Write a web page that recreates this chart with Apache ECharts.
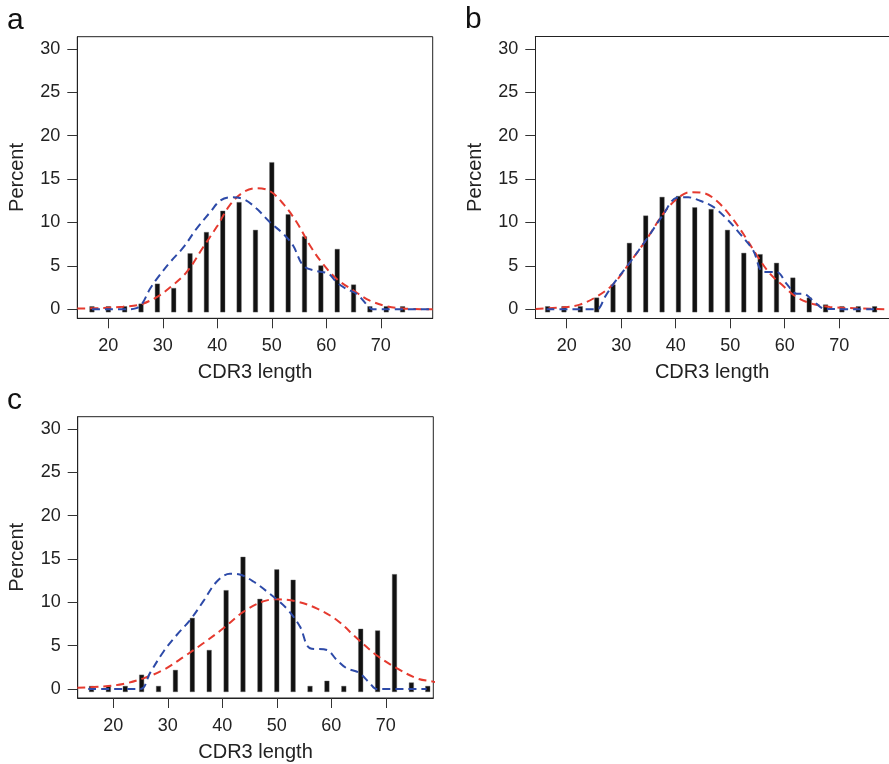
<!DOCTYPE html>
<html>
<head>
<meta charset="utf-8">
<script src="https://cdn.jsdelivr.net/npm/echarts@6/dist/echarts.min.js"></script>
<style>
html,body{margin:0;padding:0;background:#fff;}
#chart{width:889px;height:764px;}
</style>
</head>
<body>
<div id="chart"></div>
<script>
// ---------- data ----------
const xTicks = [20, 30, 40, 50, 60, 70];
const yTicks = [0, 5, 10, 15, 20, 25, 30];

// panel a
const lenA = [17,20,23,26,29,32,35,38,41,44,47,50,53,56,59,62,65,68,71,74];
const pctA = [0,0,0,0.3,2.6,2.1,6.1,8.55,11.0,12.0,8.8,16.6,10.6,8.05,4.7,6.6,2.5,0,0,0];
const redAx = [14.3,19.1,22.7,25.8,28.9,31.3,34.4,37.4,39.9,42.3,44.8,47.2,49.7,52.1,54.6,57.0,59.4,61.9,65.0,68.0,71.1,74.1,79.5];
const redAy = [0.08,0.15,0.3,0.54,1.4,2.5,4.3,7.15,9.5,12.0,13.5,13.96,13.6,12.15,10.0,7.35,5.2,3.5,2.15,1.0,0.35,0.08,0];
const blueAx = [17,23.7,25.0,26.1,27.6,28.9,31.3,33.8,36.2,38.7,40.5,42.3,44.8,47.2,49.7,52.1,53.9,55.8,58.2,60.4,61.9,63.7,65.6,68.0,68.6,79.5];
const blueAy = [0,0,0.1,0.54,2.3,3.5,5.4,7.15,9.3,11.2,12.5,12.9,12.7,11.6,10.0,8.7,7.35,5.0,4.4,4.1,3.1,2.35,1.77,0.15,0,0];

// panel b
const lenB = [16.5,19.5,22.5,25.5,28.5,31.5,34.5,37.5,40.5,43.5,46.5,49.5,52.5,55.5,58.5,61.5,64.5,67.5,70.5,73.5,76.5];
const pctB = [0,0,0,1.0,2.5,7.3,10.45,12.6,12.7,11.4,11.2,8.8,6.15,6.0,5.0,3.3,1.0,0.2,0,0,0];
const redBx = [14.3,19.4,22.4,25.5,28.55,31.6,34.7,37.7,40.2,42.6,45.1,47.5,50.0,52.4,54.9,57.3,59.7,62.2,65.2,68.3,74.4,79.6];
const redBy = [0.04,0.23,0.54,1.46,2.9,5.4,8.1,11.0,12.7,13.5,13.4,12.5,10.8,8.7,6.2,4.1,2.7,1.4,0.6,0.27,0.08,0];
const blueBx = [16.3,25.5,27.0,28.55,31.6,34.7,37.7,40.2,42.3,44.5,46.9,49.4,51.8,54.2,56.1,58.5,60.4,62.2,63.4,65.2,67.4,76.4];
const blueBy = [0,0,1.4,2.9,5.4,8.1,10.9,12.85,12.9,12.5,11.8,10.4,8.7,6.8,4.3,4.3,2.9,1.8,1.8,1.0,0.04,0];

// panel c
const lenC = [16.0,19.1,22.2,25.2,28.3,31.4,34.5,37.6,40.7,43.8,46.9,50.0,53.0,56.1,59.2,62.3,65.4,68.5,71.6,74.7,77.7];
const pctC = [0,0,0,1.3,0,1.85,7.85,4.15,11.05,14.9,10.05,13.45,12.25,0,0.6,0,6.6,6.4,12.9,0.4,0];
const redCx = [13.4,18.2,21.8,25.5,29.2,32.8,36.5,40.2,43.85,47.5,50.0,53.65,57.3,61.0,64.7,68.3,72.0,75.7,78.7,80.6];
const redCy = [0.15,0.3,0.58,1.23,2.2,3.65,5.27,7.0,8.9,10.1,10.35,10.1,9.3,7.96,5.85,3.9,2.4,1.23,0.85,0.68];
const blueCx = [15.4,25.0,26.7,29.2,31.6,34.1,36.5,39.0,41.4,43.2,45.7,48.75,51.8,54.25,56.1,59.2,61.0,62.8,65.0,67.1,68.3,77.5];
const blueCy = [0,0,1.8,4.3,6.2,7.96,10.1,12.4,13.3,13.2,12.4,10.96,9.3,7.2,4.7,4.5,3.35,2.4,1.9,0.65,0,0];

// ---------- chart ----------
const FONT = "'Liberation Sans', Arial, Helvetica, sans-serif";
const zip = (a, b) => a.map((v, i) => [v, b[i]]);

// panel b's box runs past the right edge of the picture, so its right border is not drawn
const panels = [
  {grid:{left:77.3, top:36.7, width:355.4, height:281.6}, box:true, xmin:14.31, xmax:79.52, len:lenA, pct:pctA, red:zip(redAx,redAy), blue:zip(blueAx,blueAy)},
  {grid:{left:535.3, top:36.7, width:353.7, height:281.6}, box:false, xmin:14.24, xmax:79.14, len:lenB, pct:pctB, red:zip(redBx,redBy), blue:zip(blueBx,blueBy)},
  {grid:{left:77.7, top:416.7, width:355.6, height:281.3}, box:true, xmin:13.47, xmax:78.72, len:lenC, pct:pctC, red:zip(redCx,redCy), blue:zip(blueCx,blueCy)}
];

const grids = [], xAxes = [], yAxes = [], series = [];
panels.forEach((p, i) => {
  grids.push(Object.assign({show:p.box, borderColor:'#222', borderWidth:1, backgroundColor:'transparent'}, p.grid));
  xAxes.push({
    type:'value', gridIndex:i, min:p.xmin, max:p.xmax, position:'bottom',
    name:'CDR3 length', nameLocation:'middle', nameGap:44,
    nameTextStyle:{fontFamily:FONT, fontSize:20, color:'#222'},
    axisLine:{show:true, onZero:false, lineStyle:{color:'#222', width:1}},
    axisTick:{show:true, length:10, lineStyle:{color:'#333', width:1}, customValues:xTicks},
    axisLabel:{fontFamily:FONT, fontSize:18, color:'#222', margin:19, customValues:xTicks},
    splitLine:{show:false}
  });
  yAxes.push({
    type:'value', gridIndex:i, min:-1.04, max:31.41,
    name:'Percent', nameLocation:'middle', nameGap:50,
    nameTextStyle:{fontFamily:FONT, fontSize:20, color:'#222'},
    axisLine:{show:true, onZero:false, lineStyle:{color:'#222', width:1}},
    axisTick:{show:true, length:10, lineStyle:{color:'#333', width:1}, customValues:yTicks},
    axisLabel:{fontFamily:FONT, fontSize:18, color:'#222', margin:17, customValues:yTicks},
    splitLine:{show:false}
  });
  const xi = xAxes.length - 1;
  if (!p.box) {
    // top border line for the open box
    xAxes.push({
      type:'value', gridIndex:i, min:p.xmin, max:p.xmax, position:'top',
      axisLine:{show:true, onZero:false, lineStyle:{color:'#222', width:1}},
      axisTick:{show:false}, axisLabel:{show:false}, splitLine:{show:false}
    });
  }
  series.push({
    type:'custom', xAxisIndex:xi, yAxisIndex:i, z:2,
    data: zip(p.len, p.pct),
    renderItem: function (params, api) {
      const top = api.coord([api.value(0), api.value(1)]);
      const base = api.coord([api.value(0), 0]);
      const w = 4.5, cap = 2.8;
      return {type:'rect',
        shape:{x: top[0] - w/2, y: top[1] - cap, width: w, height: base[1] - top[1] + 2*cap},
        style:{fill:'#111', stroke:'#666', lineWidth:0.4}};
    }
  });
  series.push({
    type:'line', xAxisIndex:xi, yAxisIndex:i, data:p.red, smooth:0.35, symbol:'none', clip:false, z:3,
    lineStyle:{color:'#e53a2f', width:2, type:[8,5]}
  });
  series.push({
    type:'line', xAxisIndex:xi, yAxisIndex:i, data:p.blue, smooth:0.35, symbol:'none', clip:false, z:3,
    lineStyle:{color:'#2d4aa8', width:2, type:[8,5]}
  });
});

const chart = echarts.init(document.getElementById('chart'), null, {renderer:'canvas'});
chart.setOption({
  animation:false,
  backgroundColor:'#fff',
  grid:grids, xAxis:xAxes, yAxis:yAxes, series:series,
  graphic:[
    {type:'text', left:7, top:6, style:{text:'a', font:'30px ' + FONT, fill:'#111'}},
    {type:'text', left:465, top:5, style:{text:'b', font:'30px ' + FONT, fill:'#111'}},
    {type:'text', left:7, top:386, style:{text:'c', font:'30px ' + FONT, fill:'#111'}}
  ]
});
</script>
</body>
</html>
